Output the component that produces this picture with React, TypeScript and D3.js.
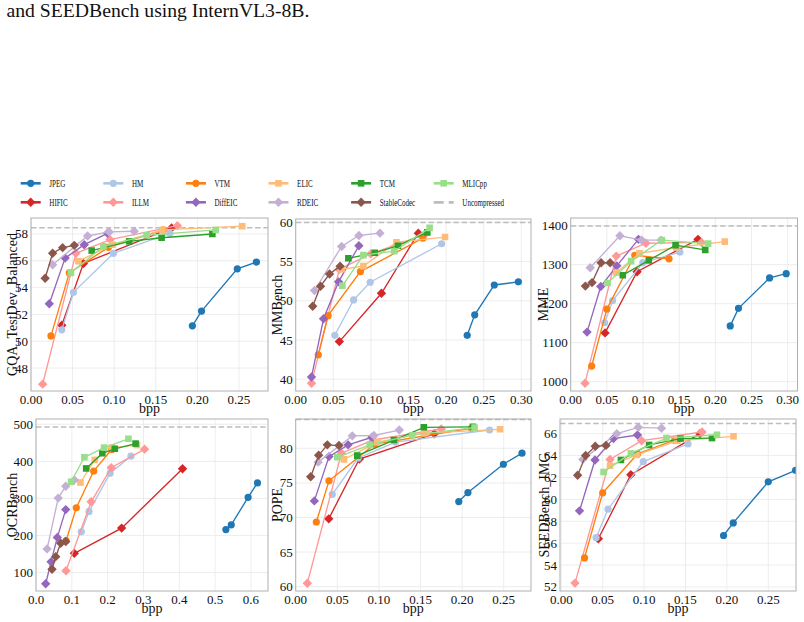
import React from 'react';
import * as d3 from 'd3';

// ---- data ----------------------------------------------------------------
const codecs = ['JPEG', 'HIFIC', 'HM', 'ILLM', 'VTM', 'DiffEIC', 'ELIC', 'RDEIC', 'TCM', 'StableCodec', 'MLICpp'];

const codecColors: Record<string, string> = {
  JPEG: '#1f77b4', HM: '#aec7e8', VTM: '#ff7f0e', ELIC: '#ffbb78', TCM: '#2ca02c', MLICpp: '#98df8a',
  HIFIC: '#d62728', ILLM: '#ff9896', DiffEIC: '#9467bd', RDEIC: '#c5b0d5', StableCodec: '#8c564b',
};

const codecMarkers: Record<string, 'circle' | 'square' | 'diamond'> = {
  JPEG: 'circle', HM: 'circle', VTM: 'circle', ELIC: 'square', TCM: 'square', MLICpp: 'square',
  HIFIC: 'diamond', ILLM: 'diamond', DiffEIC: 'diamond', RDEIC: 'diamond', StableCodec: 'diamond',
};

type Pts = [number, number][];

const gqa: Record<string, Pts> = {
  JPEG: [[0.194, 51.15], [0.205, 52.25], [0.248, 55.4], [0.271, 55.9]],
  HIFIC: [[0.037, 51.2], [0.063, 55.8], [0.169, 58.45]],
  HM: [[0.037, 50.85], [0.051, 53.65], [0.099, 56.55], [0.167, 58.05]],
  ILLM: [[0.014, 46.8], [0.054, 56.56], [0.095, 57.58], [0.176, 58.62]],
  VTM: [[0.024, 50.4], [0.046, 55.1], [0.093, 57.0], [0.159, 58.3]],
  DiffEIC: [[0.022, 52.8], [0.041, 56.2], [0.064, 57.2], [0.092, 58.05]],
  ELIC: [[0.057, 55.97], [0.098, 57.2], [0.158, 58.3], [0.254, 58.58]],
  RDEIC: [[0.026, 55.7], [0.068, 57.85], [0.094, 58.15], [0.124, 58.2]],
  TCM: [[0.073, 56.76], [0.118, 57.45], [0.157, 57.72], [0.218, 58.0]],
  StableCodec: [[0.017, 54.7], [0.026, 56.56], [0.038, 56.98], [0.052, 57.15]],
  MLICpp: [[0.048, 55.1], [0.087, 57.08], [0.139, 57.9], [0.222, 58.3]],
};

const mmbench: Record<string, Pts> = {
  JPEG: [[0.228, 45.6], [0.238, 48.2], [0.264, 52.0], [0.296, 52.4]],
  HIFIC: [[0.058, 44.8], [0.114, 50.95], [0.163, 58.6]],
  HM: [[0.052, 45.6], [0.077, 50.1], [0.099, 52.35], [0.194, 57.25]],
  ILLM: [[0.021, 39.5], [0.058, 54.0], [0.0997, 55.96], [0.171, 58.4]],
  VTM: [[0.030, 43.1], [0.043, 48.1], [0.086, 53.7], [0.169, 57.96]],
  DiffEIC: [[0.021, 40.3], [0.037, 47.7], [0.057, 52.4], [0.084, 57.0]],
  ELIC: [[0.061, 54.0], [0.090, 54.4], [0.134, 57.45], [0.1985, 58.1]],
  RDEIC: [[0.025, 51.3], [0.061, 56.9], [0.084, 58.3], [0.112, 58.6]],
  TCM: [[0.070, 55.4], [0.105, 56.1], [0.136, 57.0], [0.175, 58.7]],
  StableCodec: [[0.0226, 49.3], [0.033, 51.85], [0.045, 53.4], [0.059, 54.4]],
  MLICpp: [[0.062, 51.9], [0.090, 55.8], [0.131, 56.3], [0.178, 59.27]],
};

const mme: Record<string, Pts> = {
  JPEG: [[0.2206, 1143], [0.232, 1188], [0.275, 1266], [0.298, 1277]],
  HIFIC: [[0.0475, 1125], [0.0918, 1282], [0.176, 1365]],
  HM: [[0.047, 1151], [0.058, 1208], [0.0997, 1305], [0.151, 1332]],
  ILLM: [[0.0198, 996], [0.063, 1322], [0.104, 1355], [0.181, 1357]],
  VTM: [[0.029, 1040], [0.050, 1186], [0.0886, 1324], [0.136, 1315]],
  DiffEIC: [[0.0226, 1127], [0.0415, 1244], [0.0637, 1297], [0.0937, 1365]],
  ELIC: [[0.063, 1280], [0.095, 1329], [0.146, 1344], [0.213, 1359]],
  RDEIC: [[0.027, 1292], [0.068, 1374], [0.098, 1363], [0.125, 1363]],
  TCM: [[0.072, 1273], [0.108, 1311], [0.145, 1350], [0.186, 1338]],
  StableCodec: [[0.0203, 1245], [0.0295, 1254], [0.042, 1305], [0.0545, 1305]],
  MLICpp: [[0.051, 1253], [0.0835, 1309], [0.126, 1363], [0.190, 1354]],
};

const ocrbench: Record<string, Pts> = {
  JPEG: [[0.530, 216], [0.545, 229], [0.592, 303], [0.618, 342]],
  HIFIC: [[0.107, 152], [0.239, 220], [0.409, 380]],
  HM: [[0.1265, 210], [0.148, 265], [0.207, 368], [0.265, 414]],
  ILLM: [[0.0837, 105], [0.154, 291], [0.210, 383], [0.303, 433]],
  VTM: [[0.084, 186], [0.1125, 275], [0.161, 374], [0.211, 432]],
  DiffEIC: [[0.027, 70], [0.042, 129], [0.0595, 195], [0.083, 270]],
  ELIC: [[0.124, 343], [0.164, 404], [0.212, 437], [0.282, 444]],
  RDEIC: [[0.031, 164], [0.062, 301], [0.083, 333], [0.107, 350]],
  TCM: [[0.140, 381], [0.185, 422], [0.220, 434], [0.278, 448]],
  StableCodec: [[0.0447, 109], [0.055, 143], [0.069, 179], [0.083, 184]],
  MLICpp: [[0.098, 345], [0.135, 411], [0.190, 437], [0.258, 461]],
};

const pope: Record<string, Pts> = {
  JPEG: [[0.196, 72.3], [0.207, 73.6], [0.2496, 77.7], [0.272, 79.3]],
  HIFIC: [[0.0397, 69.8], [0.0765, 78.45], [0.1666, 82.1]],
  HM: [[0.044, 73.35], [0.075, 78.6], [0.120, 80.9], [0.233, 82.65]],
  ILLM: [[0.014, 60.5], [0.055, 79.3], [0.093, 81.2], [0.175, 82.8]],
  VTM: [[0.0248, 69.35], [0.040, 75.3], [0.095, 80.6], [0.211, 82.9]],
  DiffEIC: [[0.0224, 72.4], [0.040, 78.8], [0.063, 80.5], [0.0917, 81.6]],
  ELIC: [[0.058, 78.4], [0.098, 80.9], [0.155, 82.2], [0.2456, 82.75]],
  RDEIC: [[0.027, 78.0], [0.068, 81.8], [0.094, 81.85], [0.1245, 82.64]],
  TCM: [[0.074, 78.95], [0.118, 81.2], [0.154, 83.04], [0.213, 83.1]],
  StableCodec: [[0.018, 75.9], [0.0276, 79.0], [0.038, 80.5], [0.052, 80.4]],
  MLICpp: [[0.050, 78.7], [0.089, 80.5], [0.140, 81.9], [0.215, 83.0]],
};

const seedbench: Record<string, Pts> = {
  JPEG: [[0.196, 56.7], [0.2077, 57.85], [0.250, 61.6], [0.283, 62.65]],
  HIFIC: [[0.0447, 56.4], [0.084, 62.25], [0.1675, 66.0]],
  HM: [[0.042, 56.5], [0.0564, 59.1], [0.099, 63.45], [0.153, 65.06]],
  ILLM: [[0.0165, 52.35], [0.0588, 63.65], [0.097, 65.36], [0.170, 66.15]],
  VTM: [[0.028, 54.65], [0.050, 60.6], [0.092, 64.15], [0.137, 65.4]],
  DiffEIC: [[0.022, 58.95], [0.0407, 63.6], [0.063, 65.55], [0.092, 65.88]],
  ELIC: [[0.0588, 63.08], [0.091, 64.06], [0.140, 65.35], [0.208, 65.76]],
  RDEIC: [[0.026, 63.65], [0.067, 66.0], [0.093, 66.58], [0.121, 66.5]],
  TCM: [[0.072, 63.6], [0.106, 64.97], [0.144, 65.55], [0.182, 65.6]],
  StableCodec: [[0.0197, 62.2], [0.0294, 64.0], [0.041, 64.85], [0.054, 64.93]],
  MLICpp: [[0.051, 62.5], [0.084, 64.2], [0.127, 65.6], [0.188, 65.9]],
};

const benchmarkNames = ['GQA_TestDev_Balanced', 'MMBench', 'MME', 'OCRBench', 'POPE', 'SEEDBench_IMG'];
const benchmarkData = [gqa, mmbench, mme, ocrbench, pope, seedbench];
const uncompressedScores = [58.47, 59.95, 1399, 492.8, 84.15, 66.94];

const bppTicks = [0, 0.05, 0.1, 0.15, 0.2, 0.25];
const bppTicksWide = [0, 0.05, 0.1, 0.15, 0.2, 0.25, 0.3];
const bppTicksOcr = [0, 0.1, 0.2, 0.3, 0.4, 0.5, 0.6];
const gqaTicks = [48, 50, 52, 54, 56, 58];
const mmbenchTicks = [40, 45, 50, 55, 60];
const mmeTicks = [1000, 1100, 1200, 1300, 1400];
const ocrTicks = [100, 200, 300, 400, 500];
const popeTicks = [60, 65, 70, 75, 80];
const seedTicks = [52, 54, 56, 58, 60, 62, 64, 66];

const captionText = 'and SEEDBench using InternVL3-8B.';

// ---- layout --------------------------------------------------------------
const W = 804;
const H = 622;
const FONT = '"Liberation Serif", "DejaVu Serif", serif';

type PanelLayout = {
  left: number; right: number; top: number; bottom: number;
  xDomain: [number, number]; yDomain: [number, number];
  xTicks: number[]; yTicks: number[]; xFmt: string; labelX: number;
};

const panels: PanelLayout[] = [
  { left: 31, right: 268, top: 218, bottom: 391, xDomain: [0, 0.2849], yDomain: [46.29, 59.19], xTicks: bppTicks, yTicks: gqaTicks, xFmt: '.2f', labelX: 17 },
  { left: 295.7, right: 531, top: 219, bottom: 391, xDomain: [0, 0.3128], yDomain: [38.51, 60.4], xTicks: bppTicksWide, yTicks: mmbenchTicks, xFmt: '.2f', labelX: 282 },
  { left: 570.7, right: 797.5, top: 218, bottom: 391, xDomain: [0, 0.3136], yDomain: [976, 1419.7], xTicks: bppTicksWide, yTicks: mmeTicks, xFmt: '.2f', labelX: 548 },
  { left: 36, right: 268, top: 419, bottom: 591, xDomain: [0, 0.6475], yDomain: [50.4, 514.3], xTicks: bppTicksOcr, yTicks: ocrTicks, xFmt: '.1f', labelX: 17 },
  { left: 295.7, right: 531, top: 419, bottom: 591, xDomain: [0, 0.2828], yDomain: [59.37, 84.24], xTicks: bppTicks, yTicks: popeTicks, xFmt: '.2f', labelX: 282 },
  { left: 560, right: 796, top: 419, bottom: 591, xDomain: [-0.0016, 0.2835], yDomain: [51.63, 67.34], xTicks: bppTicks, yTicks: seedTicks, xFmt: '.2f', labelX: 549 },
];

function markerPath(kind: string, cx: number, cy: number): string {
  if (kind === 'circle') {
    const r = 3.6;
    return `M${cx - r},${cy}a${r},${r} 0 1,0 ${2 * r},0a${r},${r} 0 1,0 ${-2 * r},0Z`;
  }
  if (kind === 'square') {
    const h = 3.3;
    return `M${cx - h},${cy - h}h${2 * h}v${2 * h}h${-2 * h}Z`;
  }
  const d = 4.7;
  return `M${cx},${cy - d}L${cx + d},${cy}L${cx},${cy + d}L${cx - d},${cy}Z`;
}

function Panel({ layout, data, name, uncompressed }: { layout: PanelLayout; data: Record<string, Pts>; name: string; uncompressed: number }) {
  const x = d3.scaleLinear().domain(layout.xDomain).range([layout.left, layout.right]);
  const y = d3.scaleLinear().domain(layout.yDomain).range([layout.bottom, layout.top]);
  const fmt = d3.format(layout.xFmt);
  const line = d3.line<[number, number]>().x((d) => x(d[0])).y((d) => y(d[1]));
  const clipId = `clip-${name}`;
  const midY = (layout.top + layout.bottom) / 2;
  const midX = (layout.left + layout.right) / 2;
  return (
    <g>
      <defs>
        <clipPath id={clipId}>
          <rect x={layout.left} y={layout.top} width={layout.right - layout.left} height={layout.bottom - layout.top} />
        </clipPath>
      </defs>
      {layout.xTicks.map((t) => (
        <line key={`gx${t}`} x1={x(t)} x2={x(t)} y1={layout.top} y2={layout.bottom} stroke="#e8e8e8" strokeWidth={0.8} />
      ))}
      {layout.yTicks.map((t) => (
        <line key={`gy${t}`} x1={layout.left} x2={layout.right} y1={y(t)} y2={y(t)} stroke="#e8e8e8" strokeWidth={0.8} />
      ))}
      <line x1={layout.left} x2={layout.right} y1={y(uncompressed)} y2={y(uncompressed)} stroke="#bdbdbd" strokeWidth={1.5} strokeDasharray="5.5,2.8" />
      <g clipPath={`url(#${clipId})`}>
        {codecs.map((c) => {
          const pts = data[c];
          const col = codecColors[c];
          return (
            <g key={c}>
              <path d={line(pts) || ''} fill="none" stroke={col} strokeWidth={1.35} />
              {pts.map((p, i) => (
                <path key={i} d={markerPath(codecMarkers[c], x(p[0]), y(p[1]))} fill={col} />
              ))}
            </g>
          );
        })}
      </g>
      <rect x={layout.left} y={layout.top} width={layout.right - layout.left} height={layout.bottom - layout.top} fill="none" stroke="#b0b0b0" strokeWidth={1} />
      {layout.xTicks.map((t) => (
        <text key={`tx${t}`} x={x(t)} y={layout.bottom + 12.5} textAnchor="middle" fontSize={13} fontFamily={FONT} fill="#111">{fmt(t)}</text>
      ))}
      {layout.yTicks.map((t) => (
        <text key={`ty${t}`} x={layout.left - 3} y={y(t) + 4.5} textAnchor="end" fontSize={13} fontFamily={FONT} fill="#111">{t}</text>
      ))}
      <text x={midX} y={layout.bottom + 22} textAnchor="middle" fontSize={14} fontFamily={FONT} fill="#111">bpp</text>
      <text transform={`translate(${layout.labelX},${midY}) rotate(-90)`} textAnchor="middle" fontSize={14} fontFamily={FONT} fill="#111">{name}</text>
    </g>
  );
}

function Legend() {
  const items = [...codecs, 'Uncompressed'];
  const rowY = [183.3, 202.3];
  return (
    <g>
      {items.map((c, i) => {
        const col = Math.floor(i / 2);
        const row = i % 2;
        const x0 = 20.7 + col * 82.6;
        const yy = rowY[row];
        const isRef = c === 'Uncompressed';
        return (
          <g key={c}>
            {isRef ? (
              <line x1={x0} x2={x0 + 20} y1={yy} y2={yy} stroke="#bdbdbd" strokeWidth={2.8} strokeDasharray="10,5" />
            ) : (
              <>
                <line x1={x0} x2={x0 + 20} y1={yy} y2={yy} stroke={codecColors[c]} strokeWidth={2.6} />
                <path d={markerPath(codecMarkers[c], x0 + 10, yy)} fill={codecColors[c]} />
              </>
            )}
            <text transform={`translate(${x0 + 28.6},${yy + 3.5}) scale(0.69,1)`} fontSize={10.2} fontFamily={FONT} fill="#111">{c}</text>
          </g>
        );
      })}
    </g>
  );
}

export default function App() {
  return (
    <svg width={W} height={H} viewBox={`0 0 ${W} ${H}`} style={{ position: 'absolute', left: 0, top: 0, background: '#fff' }}>
      <rect x={0} y={0} width={W} height={H} fill="#fff" />
      <text x={6.5} y={17.3} fontSize={19.7} fontFamily={FONT} fill="#111">{captionText}</text>
      <Legend />
      {panels.map((p, i) => (
        <Panel key={benchmarkNames[i]} layout={p} data={benchmarkData[i]} name={benchmarkNames[i]} uncompressed={uncompressedScores[i]} />
      ))}
    </svg>
  );
}
